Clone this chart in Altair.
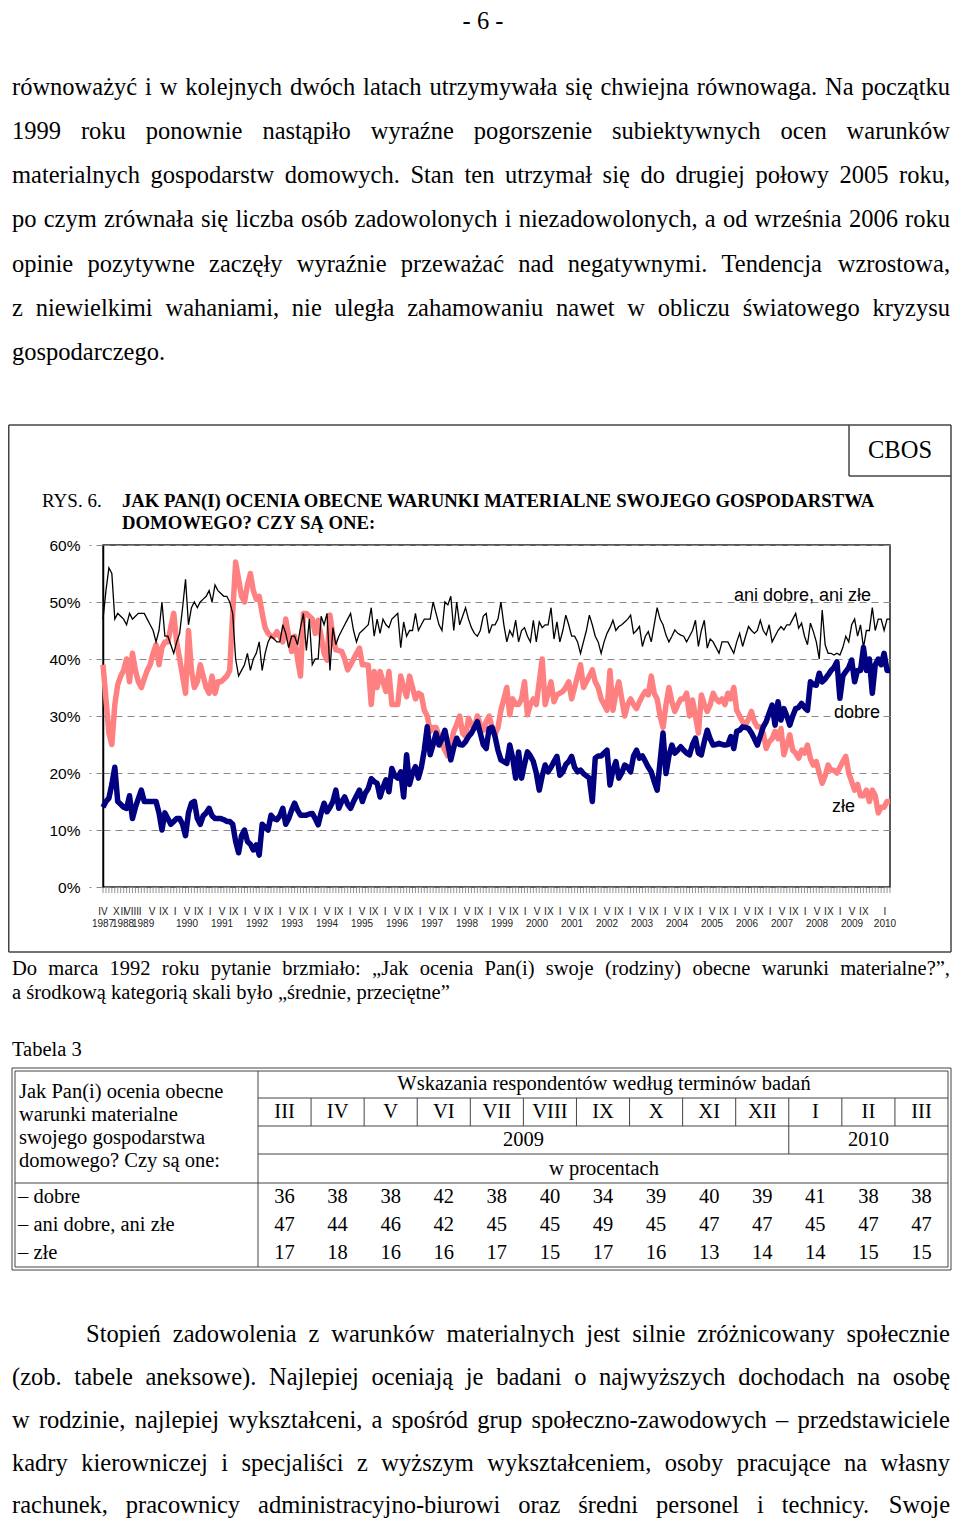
import altair as alt
import pandas as pd

# ---------------- data ----------------
page_number = "- 6 -"
para_top = [
    "równoważyć i w kolejnych dwóch latach utrzymywała się chwiejna równowaga. Na początku",
    "1999 roku ponownie nastąpiło wyraźne pogorszenie subiektywnych ocen warunków",
    "materialnych gospodarstw domowych. Stan ten utrzymał się do drugiej połowy 2005 roku,",
    "po czym zrównała się liczba osób zadowolonych i niezadowolonych, a od września 2006 roku",
    "opinie pozytywne zaczęły wyraźnie przeważać nad negatywnymi. Tendencja wzrostowa,",
    "z niewielkimi wahaniami, nie uległa zahamowaniu nawet w obliczu światowego kryzysu",
    "gospodarczego.",
]
para_bottom = [
    "Stopień zadowolenia z warunków materialnych jest silnie zróżnicowany społecznie",
    "(zob. tabele aneksowe). Najlepiej oceniają je badani o najwyższych dochodach na osobę",
    "w rodzinie, najlepiej wykształceni, a spośród grup społeczno-zawodowych – przedstawiciele",
    "kadry kierowniczej i specjaliści z wyższym wykształceniem, osoby pracujące na własny",
    "rachunek, pracownicy administracyjno-biurowi oraz średni personel i technicy. Swoje",
]
note_lines = [
    "Do marca 1992 roku pytanie brzmiało: „Jak ocenia Pan(i) swoje (rodziny) obecne warunki materialne?”,",
    "a środkową kategorią skali było „średnie, przeciętne”",
]
chart_source = "CBOS"
fig_no = "RYS. 6."
fig_title = ["JAK PAN(I) OCENIA OBECNE WARUNKI MATERIALNE SWOJEGO GOSPODARSTWA",
             "DOMOWEGO? CZY SĄ ONE:"]
series_labels = ["ani dobre, ani złe", "dobre", "złe"]

table_caption = "Tabela 3"
table_question = ["Jak Pan(i) ocenia obecne", "warunki materialne",
                  "swojego gospodarstwa", "domowego? Czy są one:"]
table_header = "Wskazania respondentów według terminów badań"
table_months = ["III", "IV", "V", "VI", "VII", "VIII", "IX", "X", "XI", "XII", "I", "II", "III"]
table_years = ["2009", "2010"]
table_unit = "w procentach"
row_labels = ["– dobre", "– ani dobre, ani złe", "– złe"]
tab_dobre = [36, 38, 38, 42, 38, 40, 34, 39, 40, 39, 41, 38, 38]
tab_ani = [47, 44, 46, 42, 45, 45, 49, 45, 47, 47, 45, 47, 47]
tab_zle = [17, 18, 16, 16, 17, 15, 17, 16, 13, 14, 14, 15, 15]

# survey-by-survey series (IV 1987 ... III 2010), percent
ani = [47, 52, 56, 55, 47, 48, 47.5, 47, 46, 48,
       47, 47.5, 48, 48, 48, 47, 46, 45, 43, 45,
       50, 44, 44, 42.5, 41, 43, 44.5, 49, 54, 46,
       49, 50, 49, 50, 50.5, 51, 52, 50, 53, 52,
       51.5, 51, 51, 50, 48, 40, 37, 38, 39, 41,
       38, 40, 41, 43, 38, 41, 43, 44, 43.5, 43,
       43, 46, 44.5, 42, 44, 44, 42.5, 45.5, 48, 41.5,
       47, 39, 40, 40, 47.5, 46, 48, 38, 45.5, 42.5,
       44, 45, 46, 47, 48, 45, 43, 44.5, 45, 45.5,
       46, 49, 44, 47, 44.5, 47, 46, 45.5, 47, 47.5,
       48, 42, 46.5, 44, 45, 45, 48, 45, 46, 47,
       47, 47, 50, 48, 46, 45, 50, 49.5, 51, 45,
       50, 46, 47.5, 49, 47, 45.5, 44.5, 44, 45, 47.5,
       48, 44.5, 46, 46, 47, 50, 46, 43, 45, 44,
       46.8, 43, 45, 45.5, 44, 43, 46.8, 43, 46.5, 45.5,
       46, 46, 49, 43.5, 46.5, 43, 45, 47.7, 46, 44,
       44, 43, 41, 43, 45, 47.7, 46, 44, 43, 41,
       43, 44.5, 45.5, 46.8, 45, 45.7, 46, 46.5, 47, 47.7,
       44.5, 45, 45.7, 42.2, 44, 44.8, 43, 46, 49, 47,
       46, 44.2, 43, 44, 45.1, 44.5, 44.2, 44, 43, 44,
       45, 46.8, 42.2, 45, 46.8, 41.9, 43.5, 43, 42, 41,
       43, 43, 43, 42, 41, 43, 44.5, 42.2, 44, 45.7,
       45, 44.5, 45, 46.8, 45, 44.2, 46, 43, 44, 45,
       45.7, 45.1, 46, 46, 47, 48, 45.4, 46.3, 44, 42.5,
       46.3, 44.8, 43, 40, 48.6, 42.5, 41, 41, 40.7, 41,
       40.7, 42, 44, 43, 46,
       47, 44, 46, 42, 45, 45, 49, 45, 47, 47, 45, 47, 47]
zle = [39, 33, 27, 25, 32, 35.5, 37, 38, 40, 36,
       41, 38, 36, 35, 36.5, 38, 39, 41, 42.5, 39,
       42, 43, 43, 45.5, 48, 43, 40, 37, 34, 45,
       38, 35, 36, 39, 37, 35, 34, 37, 34, 36,
       36, 36.5, 37, 38, 48, 57, 54, 51, 50, 53,
       55, 52, 50.5, 51, 48, 45.5, 44.5, 44, 44, 44.8,
       44, 43, 47, 44, 41.3, 44, 40, 37, 48, 48,
       47.5, 47, 44.5, 46.8, 44, 41, 39.8, 47.7, 44, 41.6,
       41.5, 41.3, 40, 38.1, 39, 40, 41, 41.9, 39, 39,
       38.9, 32, 37.8, 35, 37.8, 36, 34.3, 37.8, 32, 32,
       32, 37, 35, 33.4, 37, 35, 33, 34, 33.7, 31,
       30, 27.3, 28, 28, 26.5, 25, 24, 23, 25, 27.3,
       28.5, 30, 27, 26.4, 29.6, 28.5, 27.8, 30, 28.5, 27.5,
       29, 30, 28, 26.7, 28, 31, 33, 35, 30.2, 33,
       32, 32, 33, 36, 30.2, 32, 33, 32, 36, 40,
       32, 34, 36, 32.5, 33.7, 34, 34.3, 35, 36, 33,
       35, 37, 39, 35, 36, 37, 38.1, 36, 35, 33,
       32, 31, 38, 31, 34, 36, 33, 30, 32, 33,
       32, 31.3, 32.5, 33.5, 34.3, 33.7, 37, 34, 33, 30,
       28, 32, 35, 32.5, 30.8, 32, 33, 33, 34, 30,
       32.8, 30, 27, 33.7, 32, 30.8, 32, 34, 33, 32.5,
       33, 32, 34, 33, 35, 31, 30, 29, 28.4, 29.5,
       30.8, 29, 28.1, 28.1, 27, 24.3, 25.5, 26, 27.3, 26,
       27.8, 23.2, 25, 26.7, 24, 23.5, 22.6, 24, 23.5, 24.9,
       22.5, 21.4, 22, 20, 18.2, 19.5, 21.4, 20.5, 20.5, 20,
       21, 22, 22.9, 20, 18.5,
       17, 18, 16, 16, 17, 15, 17, 16, 13, 14, 14, 15, 15]
dobre = [14, 15, 15.6, 18, 21, 15, 14.5, 14, 13.8, 16,
         12, 14, 15.5, 17, 15, 15, 15, 15, 15, 13,
         10, 13, 12, 11, 11.5, 12, 12, 11, 9, 13,
         14.7, 15, 12, 11, 12.5, 13, 13.8, 12.5, 12, 12,
         12, 11.8, 11.5, 11.5, 11, 8, 6, 9, 10, 8,
         7.5, 6.5, 7.4, 5.6, 11, 10.5, 10, 12.6, 12, 11.8,
         12.5, 13.8, 11, 12, 13.5, 14.7, 13.5, 12.6, 12.6, 12.6,
         12.8, 12.9, 12, 10.9, 13, 14.7, 13.2, 14, 15, 17,
         13.8, 15, 15.8, 14.5, 13.8, 15, 16, 17, 15, 16.5,
         17.3, 19, 18.5, 18.2, 15.8, 17.5, 18.8, 16.7, 20.8, 19.5,
         19.1, 20.2, 15.8, 23.2, 18, 20, 21.1, 19.1, 21, 24,
         28.1, 23.2, 25, 27, 24.9, 26, 27.5, 25, 22.3, 24.5,
         26.1, 25, 24.9, 25.5, 26.4, 27, 28, 29, 27, 25,
         24.3, 27.8, 28, 26.4, 24, 22.3, 22, 21.7, 24.9, 22.6,
         19.1, 23.7, 19.1, 21.5, 23.7, 23, 22, 20, 17, 19.5,
         21.4, 20.2, 21, 22, 22.9, 19.6, 20.2, 21.5, 22, 22.9,
         21, 20.2, 20.5, 19.9, 19.5, 19.1, 15, 22.6, 23, 23,
         23.5, 24, 17.9, 20.5, 22, 19.1, 20, 21.4, 21, 20.2,
         23, 24, 22.6, 23, 22, 21, 20.2, 18.5, 17, 22,
         27, 19.9, 23, 24.9, 23.5, 24, 24.6, 24, 23.5, 23.2,
         25, 26.1, 23.5, 23.2, 25.5, 27.5, 26, 24.9, 25, 25.2,
         25, 24.9, 25, 26.4, 24.3, 27.3, 27.5, 28.1, 28, 27.8,
         27, 26, 24.9, 26.5, 28.1, 29, 30.5, 31.9, 28.4, 32.5,
         29.3, 31.3, 30, 28.4, 30, 31.3, 31.5, 32.2, 31.5, 31,
         36, 35.5, 35.4, 37.5, 36, 36.5, 37.2, 38, 38.5, 39.5,
         33.1, 37, 37.8, 38.5, 39.8,
         36, 38, 38, 42, 38, 40, 34, 39, 40, 39, 41, 38, 38]

# axis labels and where they sit along the survey axis
YEAR_STEP = 11.875      # label spacing per year, in survey steps
V1990 = 28.5            # position of the "V 1990" label
month_labels = ["IV", "X", "II", "VIII"] + ["I", "V", "IX"] * 21 + ["I"]
month_pos = [0, 4.5, 6.9, 9.7] + [V1990 + YEAR_STEP * (y - 1990) + m
                                  for y in range(1989, 2010) for m in (-4, 0, 4)] + [265.3]
year_labels = ["1987", "1988", "1989"] + [str(y) for y in range(1990, 2010)] + ["2010"]
year_pos = [0, 6.8, 13.6] + [V1990 + YEAR_STEP * (y - 1990) for y in range(1990, 2010)] + [265.3]

# ---------------- layout (page pixels) ----------------
OX, OY = 103, 545          # plot origin on page
PW, PH = 787, 342          # plot area
RIGHT = 951                # right edge of the drawing
SERIF = "Liberation Serif"
SANS = "Liberation Sans"

TW = {' ': 250, '!': 333, '"': 408, '(': 333, ')': 333, ',': 250, '-': 333, '.': 250, ':': 278,
      '?': 444, '„': 444, '”': 444, '–': 500,
      'A': 722, 'B': 667, 'C': 667, 'D': 722, 'E': 611, 'F': 556, 'G': 722, 'H': 722, 'I': 333,
      'J': 389, 'K': 722, 'L': 611, 'M': 889, 'N': 722, 'O': 722, 'P': 556, 'Q': 722, 'R': 667,
      'S': 556, 'T': 611, 'U': 722, 'V': 722, 'W': 944, 'X': 722, 'Y': 722, 'Z': 611,
      'a': 444, 'b': 500, 'c': 444, 'd': 500, 'e': 444, 'f': 333, 'g': 500, 'h': 500, 'i': 278,
      'j': 278, 'k': 500, 'l': 278, 'm': 778, 'n': 500, 'o': 500, 'p': 500, 'q': 500, 'r': 333,
      's': 389, 't': 278, 'u': 500, 'v': 500, 'w': 722, 'x': 500, 'y': 500, 'z': 444,
      'ą': 444, 'ć': 444, 'ę': 444, 'ł': 278, 'ń': 500, 'ó': 500, 'ś': 389, 'ź': 444, 'ż': 444}


def tw(s, fs):
    return sum(TW.get(c, 500) for c in s) / 1000.0 * fs


def words(line, x0, x1, y, fs, justify=True):
    ws = line.split(" ")
    wd = [tw(w, fs) for w in ws]
    gap = (x1 - x0 - sum(wd)) / (len(ws) - 1) if (justify and len(ws) > 1) else tw(" ", fs)
    out, x = [], x0
    for w, d in zip(ws, wd):
        out.append({"x": x - OX, "y": y - OY, "t": w, "s": fs})
        x += d + gap
    return out


def at(x, y, t, fs):
    return {"x": x - OX, "y": y - OY, "t": t, "s": fs}


def text_layer(rows, font=SERIF, weight="normal", align="left", color="#000"):
    return alt.Chart(pd.DataFrame(rows)).mark_text(
        font=font, fontWeight=weight, align=align, baseline="middle", color=color
    ).encode(
        x=alt.X("x:Q", scale=None, axis=None),
        y=alt.Y("y:Q", scale=None, axis=None),
        text="t:N",
        size=alt.Size("s:Q", scale=None, legend=None),
    )


# ---- serif left text ----
FS = 24.5
TXT_R = RIGHT - 1
serif_left = []
tops = [88, 132, 176, 220, 265, 309, 353]
for i, (ln, y) in enumerate(zip(para_top, tops)):
    serif_left += words(ln, 12, TXT_R, y, FS, justify=i < len(para_top) - 1)
bots = [1335, 1378, 1421, 1464, 1506]
for i, (ln, y) in enumerate(zip(para_bottom, bots)):
    serif_left += words(ln, 86 if i == 0 else 12, TXT_R, y, FS)
FN = 20.5
for i, (ln, y) in enumerate(zip(note_lines, [969, 993])):
    serif_left += words(ln, 12, TXT_R, y, FN, justify=i == 0)
serif_left.append(at(12, 1050, table_caption, FN))
for ln, y in zip(table_question, [1092, 1115, 1138, 1161]):
    serif_left.append(at(19, y, ln, FN))
for ln, y in zip(row_labels, [1197, 1225, 1253]):
    serif_left.append(at(18, y, ln, FN))
serif_left.append(at(42, 501, fig_no, 19))

# ---- table geometry ----
T_L, T_R = 12, RIGHT            # outer border
COL0 = 258.0
COLW = (T_R - 3 - COL0) / 13.0
serif_center = [at(483, 22, page_number, FS), at(900, 451, chart_source, FS),
                at(604, 1084, table_header, FN), at(604, 1169, table_unit, FN),
                at(COL0 + 5 * COLW, 1140, table_years[0], FN),
                at(COL0 + 11.5 * COLW, 1140, table_years[1], FN)]
for k, m in enumerate(table_months):
    cx = COL0 + COLW * (k + 0.5)
    serif_center.append(at(cx, 1112, m, FN))
    for vals, y in zip([tab_dobre, tab_ani, tab_zle], [1197, 1225, 1253]):
        serif_center.append(at(cx, y, str(vals[k]), FN))

title_rows = [at(122, 501, fig_title[0], 18.7), at(122, 523, fig_title[1], 18.7)]

sans_rows = [at(734, 596, series_labels[0], 18), at(834, 713, series_labels[1], 18),
             at(832, 807, series_labels[2], 18)]

# ---- table / frame rules ----
hlines = []  # (y, x1, x2, width)
vlines = []  # (x, y1, y2, width)
for (x1, y1, x2, y2) in [(T_L, 1068, T_R, 1270), (T_L + 3, 1071, T_R - 3, 1267)]:
    hlines += [(y1, x1, x2, 1), (y2, x1, x2, 1)]
    vlines += [(x1, y1, y2, 1), (x2, y1, y2, 1)]
hlines += [(1098, COL0, T_R - 3, 1), (1126, COL0, T_R - 3, 1), (1154, COL0, T_R - 3, 1),
           (1183, T_L + 3, T_R - 3, 1)]
vlines += [(COL0, 1071, 1267, 1), (COL0 + 10 * COLW, 1126, 1154, 1)]
for k in range(1, 13):
    vlines.append((COL0 + k * COLW, 1098, 1126, 1))
# chart frame + CBOS box
hlines += [(425, 8.75, RIGHT, 1.5), (952, 8.75, RIGHT, 1.5), (476, 849, RIGHT, 1.5)]
vlines += [(8.75, 425, 952, 1.5), (RIGHT, 425, 952, 1.5), (849, 425, 476, 1.5)]

hdf = pd.DataFrame([{"y": y - OY, "x1": a - OX, "x2": b - OX, "w": w} for y, a, b, w in hlines])
vdf = pd.DataFrame([{"x": x - OX, "y1": a - OY, "y2": b - OY, "w": w} for x, a, b, w in vlines])
hrule = alt.Chart(hdf).mark_rule(color="#444").encode(
    x=alt.X("x1:Q", scale=None, axis=None), x2="x2:Q",
    y=alt.Y("y:Q", scale=None, axis=None),
    strokeWidth=alt.StrokeWidth("w:Q", scale=None, legend=None))
vrule = alt.Chart(vdf).mark_rule(color="#444").encode(
    x=alt.X("x:Q", scale=None, axis=None),
    y=alt.Y("y1:Q", scale=None, axis=None), y2="y2:Q",
    strokeWidth=alt.StrokeWidth("w:Q", scale=None, legend=None))

# ---------------- chart ----------------
N = len(dobre)
df = pd.DataFrame({"idx": list(range(N)), "dobre": dobre, "ani": ani, "zle": zle})
xs = alt.Scale(domain=[0, N - 1], nice=False, zero=False)
ys = alt.Scale(domain=[0, 60], nice=False, zero=True)
X = alt.X("idx:Q", scale=xs, axis=None)
yaxis = alt.Axis(values=[0, 10, 20, 30, 40, 50, 60], labelExpr="datum.value + '%'",
                 grid=True, gridDash=[7, 5], gridColor="#8a8a8a", gridWidth=1,
                 ticks=True, tickSize=14, tickDash=[7, 5], tickColor="#8a8a8a",
                 domain=True, domainColor="#000", domainWidth=1.5,
                 labelFont=SANS, labelFontSize=15.5, labelColor="#000", labelPadding=9,
                 title=None)

base = alt.Chart(df)
pink = base.mark_line(color="#FF8080", strokeWidth=5.5, strokeJoin="round").encode(
    x=X, y=alt.Y("zle:Q", scale=ys, axis=yaxis))
black = base.mark_line(color="#000000", strokeWidth=1.3).encode(
    x=X, y=alt.Y("ani:Q", scale=ys, axis=yaxis))
navy = base.mark_line(color="#000080", strokeWidth=5.5, strokeJoin="round").encode(
    x=X, y=alt.Y("dobre:Q", scale=ys, axis=yaxis))

ticks = alt.Chart(pd.DataFrame({"idx": list(range(N))})).mark_rule(
    color="#777", strokeWidth=0.8).encode(x=X, y=alt.value(PH), y2=alt.value(PH + 6))

mlab = alt.Chart(pd.DataFrame({"idx": month_pos, "t": month_labels})).mark_text(
    font=SANS, fontSize=10, baseline="middle", align="center", color="#222").encode(
    x=X, y=alt.value(912 - OY), text="t:N")
ylab = alt.Chart(pd.DataFrame({"idx": year_pos, "t": year_labels})).mark_text(
    font=SANS, fontSize=10, baseline="middle", align="center", color="#222").encode(
    x=X, y=alt.value(924 - OY), text="t:N")

chart = alt.layer(
    hrule, vrule,
    pink, black, navy, ticks, mlab, ylab,
    text_layer(serif_left, SERIF, "normal", "left"),
    text_layer(serif_center, SERIF, "normal", "center"),
    text_layer(title_rows, SERIF, "bold", "left"),
    text_layer(sans_rows, SANS, "normal", "left"),
).properties(
    width=PW, height=PH,
    autosize=alt.AutoSizeParams(type="none"),
    padding={"left": OX - 8, "top": OY - 8, "right": 952 - (OX + PW), "bottom": 1520 - (OY + PH)},
).configure_view(stroke="#222", strokeWidth=1.5)

chart.save("out.html", embed_options={"renderer": "svg", "actions": False})
